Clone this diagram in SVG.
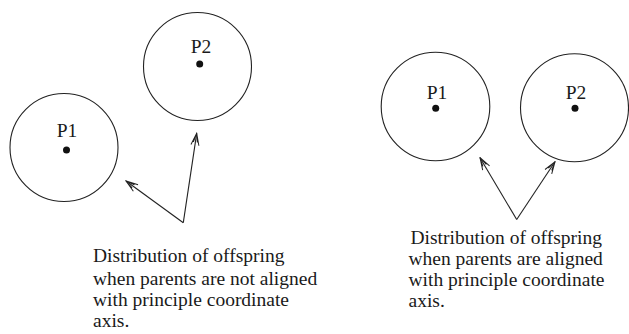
<svg xmlns="http://www.w3.org/2000/svg" width="629" height="334" viewBox="0 0 629 334">
<defs>
<style>
.c{fill:none;stroke:#222;stroke-width:1.1}
.d{fill:#111}
.l{font-family:"Liberation Serif","Times New Roman",serif;font-size:19.5px;fill:#1a1a1a}
.t{font-family:"Liberation Serif","Times New Roman",serif;font-size:19.5px;fill:#1a1a1a}
.a{fill:none;stroke:#222;stroke-width:1.1}
</style>
<marker id="ah" viewBox="0 0 14 10" refX="13" refY="5" markerWidth="14" markerHeight="10" markerUnits="userSpaceOnUse" orient="auto">
<path d="M1,1 L13,5 L1,9 M4,3 L13,5 L4,7" fill="none" stroke="#222" stroke-width="1"/>
</marker>
</defs>
<rect width="629" height="334" fill="#fff"/>
<g id="left-p1">
<circle class="c" cx="64" cy="147.5" r="54"/>
<circle class="d" cx="66.5" cy="150" r="3.5"/>
<text class="l" x="67" y="137" text-anchor="middle">P1</text>
</g>
<g id="left-p2">
<circle class="c" cx="197.5" cy="66.5" r="54"/>
<circle class="d" cx="199.7" cy="64" r="3.5"/>
<text class="l" x="201" y="53" text-anchor="middle">P2</text>
</g>
<g id="right-p1">
<circle class="c" cx="435.5" cy="106.5" r="54.3"/>
<circle class="d" cx="435.7" cy="108.3" r="3.5"/>
<text class="l" x="437" y="99" text-anchor="middle">P1</text>
</g>
<g id="right-p2">
<circle class="c" cx="574.5" cy="107.8" r="54"/>
<circle class="d" cx="575" cy="108.3" r="3.5"/>
<text class="l" x="576" y="99" text-anchor="middle">P2</text>
</g>
<g id="connectors">
<path class="a" d="M183.3,222.7 L126,181" marker-end="url(#ah)"/>
<path class="a" d="M183.3,222.7 L196.7,133.3" marker-end="url(#ah)"/>
<path class="a" d="M516.7,219.5 L480,157.7" marker-end="url(#ah)"/>
<path class="a" d="M516.7,219.5 L555,161.7" marker-end="url(#ah)"/>
</g>
<g id="caption-left">
<text class="t" x="93" y="262">Distribution of offspring</text>
<text class="t" x="93" y="284.5">when parents are not aligned</text>
<text class="t" x="93" y="306">with principle coordinate</text>
<text class="t" x="93" y="327">axis.</text>
</g>
<g id="caption-right">
<text class="t" x="410.5" y="244">Distribution of offspring</text>
<text class="t" x="408.5" y="265">when parents are aligned</text>
<text class="t" x="408.5" y="286">with principle coordinate</text>
<text class="t" x="408.5" y="306.5">axis.</text>
</g>
</svg>
